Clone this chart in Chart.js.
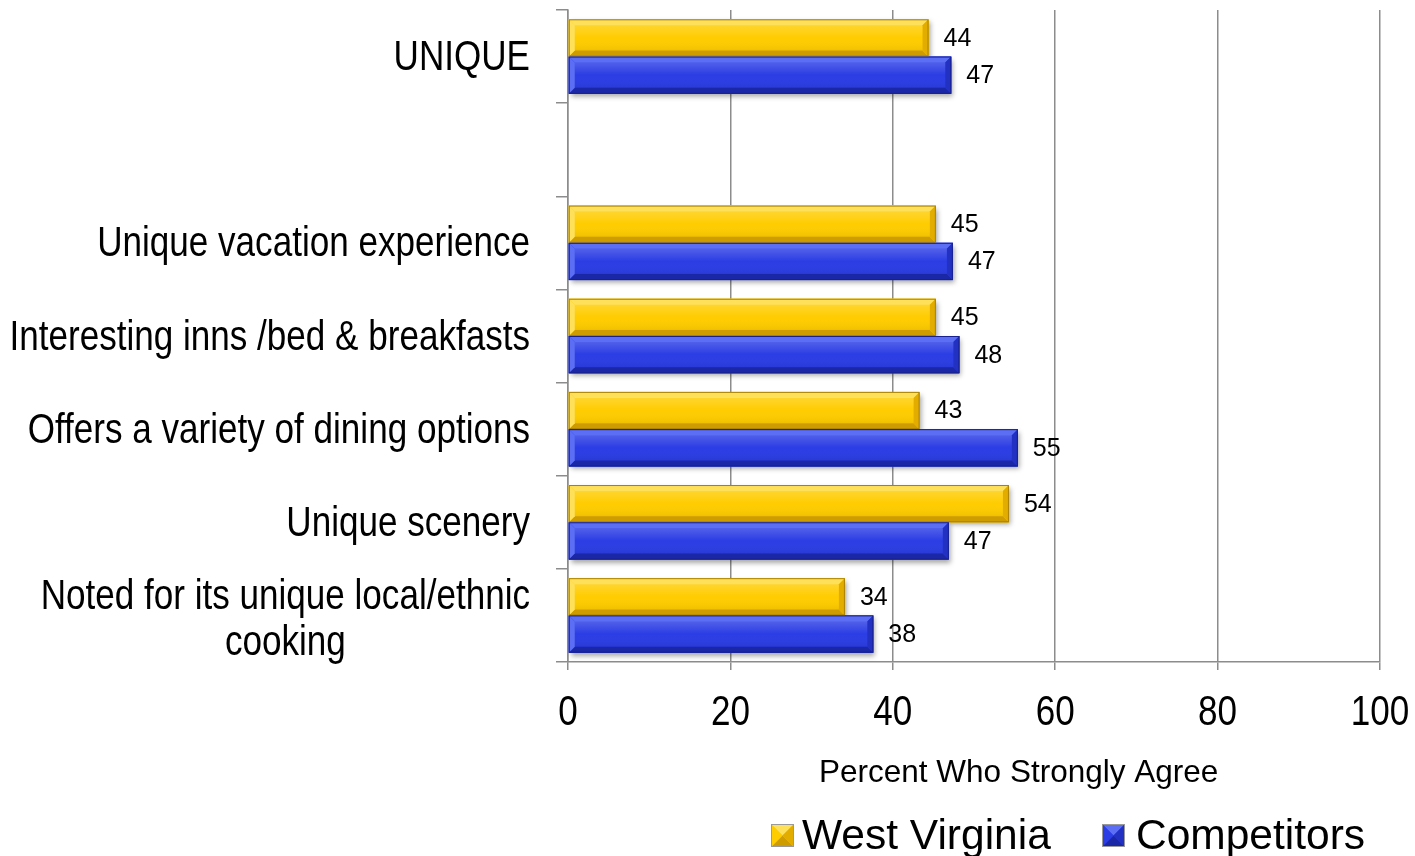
<!DOCTYPE html>
<html lang="en">
<head>
    <meta charset="UTF-8">
    <title>Percent Who Strongly Agree</title>
    <script src="https://cdn.jsdelivr.net/npm/chart.js"></script>
    <style>
        body { margin: 0; background: #fff; }
    </style>
</head>
<body>
    <canvas id="agreeChart" width="1415" height="856"></canvas>

    <script>
        const categories = [
            'UNIQUE',
            '',
            'Unique vacation experience',
            'Interesting inns /bed & breakfasts',
            'Offers a variety of dining options',
            'Unique scenery',
            ['Noted for its unique local/ethnic', 'cooking']
        ];
        const westVirginia = [44.4, null, 45.3, 45.3, 43.3, 54.3, 34.1];
        const competitors = [47.2, null, 47.4, 48.2, 55.4, 46.9, 37.6];
        const xTicks = [0, 20, 40, 60, 80, 100];
        const seriesNames = ['West Virginia', 'Competitors'];
        const axisTitle = 'Percent Who Strongly Agree';

        const SANS = "'Liberation Sans', Arial, sans-serif";
        const SQUEEZE = 0.835; // no narrow face installed, so squeeze the regular one
        const gridGray = '#8c8c8c';

        // base / light edge / dark edge / end chamfer
        const palette = [
            { base: '#ffcc00', light: '#ffe05a', dark: '#cf9c00', end: '#e3ad00', line: '#a98000' },
            { base: '#2b3de4', light: '#5b6ef4', dark: '#1a27a6', end: '#2231c2', line: '#182190' }
        ];

        function narrowText(ctx, text, x, y) {
            ctx.save();
            ctx.translate(x, y);
            ctx.scale(SQUEEZE, 1);
            ctx.fillText(text, 0, 0);
            ctx.restore();
        }

        function bevel(ctx, x0, x1, y0, y1, c) {
            const b = Math.min(6, (x1 - x0) / 2, (y1 - y0) / 2);
            const poly = (pts, fill) => {
                ctx.fillStyle = fill;
                ctx.beginPath();
                ctx.moveTo(pts[0][0], pts[0][1]);
                pts.slice(1).forEach(p => ctx.lineTo(p[0], p[1]));
                ctx.closePath();
                ctx.fill();
            };
            poly([[x0, y0], [x1, y0], [x1 - b, y0 + b], [x0 + b, y0 + b]], c.light);
            poly([[x0, y1], [x1, y1], [x1 - b, y1 - b], [x0 + b, y1 - b]], c.dark);
            poly([[x1, y0], [x1, y1], [x1 - b, y1 - b], [x1 - b, y0 + b]], c.end);
            poly([[x0, y0], [x0, y1], [x0 + b, y1 - b], [x0 + b, y0 + b]], c.light);
            const g = ctx.createLinearGradient(0, y0 + b, 0, y1 - b);
            g.addColorStop(0, 'rgba(255,255,255,0.18)');
            g.addColorStop(0.5, 'rgba(255,255,255,0)');
            g.addColorStop(1, 'rgba(0,0,0,0.06)');
            ctx.fillStyle = g;
            ctx.fillRect(x0 + b, y0 + b, x1 - x0 - 2 * b, y1 - y0 - 2 * b);
            ctx.strokeStyle = c.line;
            ctx.lineWidth = 1;
            ctx.strokeRect(x0 + 0.5, y0 + 0.5, x1 - x0 - 1, y1 - y0 - 1);
        }

        const barLook = {
            id: 'barLook',
            beforeDatasetsDraw(chart) {
                const ctx = chart.ctx;
                ctx.save();
                chart.data.datasets.forEach((ds, di) => {
                    chart.getDatasetMeta(di).data.forEach((el, i) => {
                        if (ds.data[i] == null) return;
                        const p = el.getProps(['x', 'y', 'base', 'height'], true);
                        ctx.shadowColor = 'rgba(0,0,0,0.35)';
                        ctx.shadowBlur = 5;
                        ctx.shadowOffsetX = 2;
                        ctx.shadowOffsetY = 3;
                        ctx.fillStyle = palette[di].base;
                        ctx.fillRect(p.base, p.y - p.height / 2, p.x - p.base, p.height);
                    });
                });
                ctx.restore();
            },
            afterDatasetsDraw(chart) {
                const ctx = chart.ctx;
                ctx.save();
                chart.data.datasets.forEach((ds, di) => {
                    chart.getDatasetMeta(di).data.forEach((el, i) => {
                        if (ds.data[i] == null) return;
                        const p = el.getProps(['x', 'y', 'base', 'height'], true);
                        bevel(ctx, p.base, p.x, p.y - p.height / 2, p.y + p.height / 2, palette[di]);
                        ctx.fillStyle = '#000';
                        ctx.font = '25px ' + SANS;
                        ctx.textAlign = 'left';
                        ctx.textBaseline = 'middle';
                        ctx.fillText(String(Math.round(ds.data[i])), p.x + 15, p.y + 1);
                    });
                });
                ctx.restore();
            }
        };

        const textBits = {
            id: 'textBits',
            afterDraw(chart) {
                const { ctx, scales: { x, y } } = chart;
                ctx.save();
                ctx.fillStyle = '#000';

                // category labels, multi-line ones centred on their widest line
                ctx.font = '42px ' + SANS;
                ctx.textAlign = 'center';
                ctx.textBaseline = 'middle';
                categories.forEach((c, i) => {
                    const lines = Array.isArray(c) ? c : [c];
                    const w = SQUEEZE * Math.max(...lines.map(l => ctx.measureText(l).width));
                    const cx = y.right - 38 - w / 2;
                    const cy = y.getPixelForValue(i) + (lines.length > 1 ? 5 : 2);
                    lines.forEach((l, j) => narrowText(ctx, l, cx, cy + (j - (lines.length - 1) / 2) * 46));
                });

                // x tick labels
                xTicks.forEach(v => narrowText(ctx, String(v), x.getPixelForValue(v), x.top + 51));

                // axis title
                ctx.font = '31.5px ' + SANS;
                ctx.fillText(axisTitle, x.getPixelForValue(55.5), 773);

                // legend
                ctx.font = '42.5px ' + SANS;
                ctx.textAlign = 'left';
                const items = [{ box: 771, text: 802 }, { box: 1102, text: 1136 }];
                seriesNames.forEach((name, i) => {
                    const c = palette[i];
                    const bx = items[i].box, by = 824, s = 23;
                    ctx.fillStyle = c.base;
                    ctx.fillRect(bx, by, s, s);
                    const h = s / 2;
                    const tri = (pts, f) => {
                        ctx.fillStyle = f;
                        ctx.beginPath();
                        ctx.moveTo(pts[0][0], pts[0][1]);
                        pts.slice(1).forEach(p => ctx.lineTo(p[0], p[1]));
                        ctx.closePath();
                        ctx.fill();
                    };
                    tri([[bx, by], [bx + s, by], [bx + h, by + h]], c.light);
                    tri([[bx, by + s], [bx + s, by + s], [bx + h, by + h]], c.dark);
                    tri([[bx, by], [bx, by + s], [bx + h, by + h]], c.base);
                    tri([[bx + s, by], [bx + s, by + s], [bx + h, by + h]], c.end);
                    ctx.strokeStyle = '#999';
                    ctx.lineWidth = 1;
                    ctx.strokeRect(bx + 0.5, by + 0.5, s - 1, s - 1);
                    ctx.fillStyle = '#000';
                    ctx.textBaseline = 'alphabetic';
                    ctx.fillText(name, items[i].text, 849);
                });
                ctx.restore();
            }
        };

        const ctx = document.getElementById('agreeChart').getContext('2d');
        const agreeChart = new Chart(ctx, {
            type: 'bar',
            data: {
                labels: categories,
                datasets: [
                    { label: seriesNames[0], data: westVirginia, backgroundColor: palette[0].base },
                    { label: seriesNames[1], data: competitors, backgroundColor: palette[1].base }
                ]
            },
            options: {
                indexAxis: 'y',
                responsive: false,
                animation: false,
                events: [],
                layout: { padding: { top: 10, right: 35, left: 0, bottom: 0 } },
                datasets: { bar: { categoryPercentage: 0.8, barPercentage: 1.0 } },
                plugins: {
                    legend: { display: false },
                    tooltip: { enabled: false }
                },
                scales: {
                    x: {
                        min: 0,
                        max: 100,
                        afterBuildTicks: (scale) => { scale.ticks = xTicks.map(v => ({ value: v })); },
                        ticks: { display: false },
                        grid: { color: gridGray, lineWidth: 1.5, tickLength: 8 },
                        border: { color: gridGray, width: 1.5 },
                        afterFit: (scale) => { scale.height = 194; }
                    },
                    y: {
                        ticks: { display: false },
                        grid: { drawOnChartArea: false, color: gridGray, lineWidth: 1.5, tickLength: 12, offset: true },
                        border: { color: gridGray, width: 1.5 },
                        afterFit: (scale) => { scale.width = 568; }
                    }
                }
            },
            plugins: [barLook, textBits]
        });
    </script>
</body>
</html>
